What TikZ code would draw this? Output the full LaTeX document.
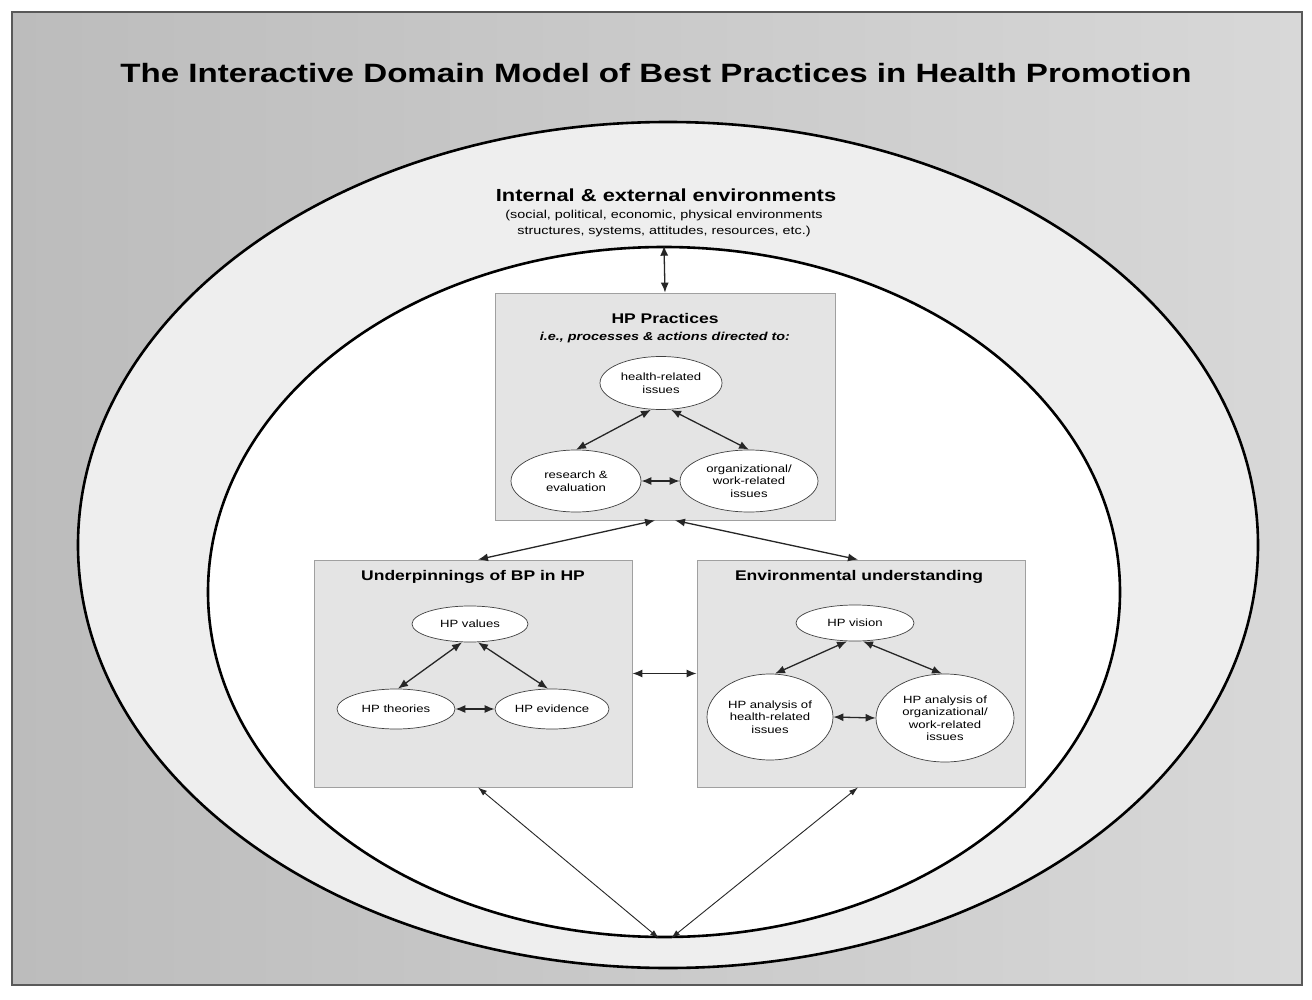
\documentclass[tikz,border=0pt]{standalone}
\usepackage{fontspec}
\setmainfont{Liberation Sans}[FakeStretch=1.25]
\usetikzlibrary{shapes.geometric,arrows.meta,calc}
\definecolor{bgleft}{RGB}{188,188,188}
\definecolor{bgright}{RGB}{216,216,216}
\definecolor{ringfill}{RGB}{238,238,238}
\definecolor{boxfill}{RGB}{228,228,228}
\definecolor{boxline}{RGB}{160,160,160}
\tikzset{
  panel/.style={draw=boxline, fill=boxfill, line width=0.8pt, inner sep=0pt},
  oval/.style={ellipse, draw=black!75, fill=white, line width=0.7pt, inner sep=0pt, align=center,
    font=\fontsize{10.5}{12.5}\selectfont},
  dbl/.style={{Latex[length=10pt,width=8pt]}-{Latex[length=10pt,width=8pt]}, line width=1.3pt, draw=black!85},
  thindbl/.style={{Latex[length=9pt,width=6pt]}-{Latex[length=9pt,width=6pt]}, line width=0.9pt, draw=black!85},
  paneltitle/.style={font=\bfseries\fontsize{14}{16}\selectfont, inner sep=0pt},
}
\begin{document}
\begin{tikzpicture}[x=1pt,y=-1pt]
\useasboundingbox (0,0) rectangle (1312,1000);
\fill[white] (0,0) rectangle (1312,1000);
% frame with gradient background
\shade[left color=bgleft, right color=bgright] (12,12) rectangle (1302,985);
\draw[black!65, line width=1.2pt] (12,12) rectangle (1302,985);
% title
\node[font=\bfseries\fontsize{26.5}{30}\selectfont, inner sep=0pt] (title) at (656,73)
  {The Interactive Domain Model of Best Practices in Health Promotion};
% ellipses
\node[ellipse, draw=black, line width=2.6pt, fill=ringfill, minimum width=1180pt, minimum height=846pt, inner sep=0pt] (outer) at (668,545) {};
\node[ellipse, draw=black, line width=2.6pt, fill=white, minimum width=912pt, minimum height=690pt, inner sep=0pt] (inner) at (664,592) {};
% environment label
\node[font=\bfseries\fontsize{17.5}{20}\selectfont, inner sep=0pt] (envtitle) at (666,195) {Internal \& external environments};
\node[font=\fontsize{11.5}{16}\selectfont, align=center, inner sep=0pt] (envsub) at (664,224)
  {(social, political, economic, physical environments\\structures, systems, attitudes, resources, etc.)};
% panels
\node[panel, minimum width=340pt, minimum height=227pt] (hpp) at (665,406.5) {};
\node[panel, minimum width=318pt, minimum height=227pt] (ub) at (473,673.5) {};
\node[panel, minimum width=328pt, minimum height=227pt] (env) at (861,673.5) {};
% panel titles
\node[paneltitle] (hpptitle) at (665,318) {HP Practices};
\node[font=\bfseries\itshape\fontsize{11.5}{13}\selectfont, inner sep=0pt] (hppsub) at (665,338) {i.e., processes \& actions directed to:};
\node[paneltitle] (ubtitle) at (473,577) {Underpinnings of BP in HP};
\node[paneltitle] (envutitle) at (859,577) {Environmental understanding};
% HP practices ovals
\node[oval, minimum width=122pt, minimum height=53pt] (hri) at (661,383) {health-related\\issues};
\node[oval, minimum width=130pt, minimum height=62pt] (re) at (576,481) {research \&\\evaluation};
\node[oval, minimum width=138pt, minimum height=62pt] (ow) at (749,481) {organizational/\\work-related\\issues};
% underpinnings ovals
\node[oval, minimum width=116pt, minimum height=36pt] (hv) at (470,624) {HP values};
\node[oval, minimum width=118pt, minimum height=40pt] (ht) at (396,709) {HP theories};
\node[oval, minimum width=114pt, minimum height=40pt] (he) at (552,709) {HP evidence};
% environmental understanding ovals
\node[oval, minimum width=118pt, minimum height=36pt] (vis) at (855,623) {HP vision};
\node[oval, minimum width=126pt, minimum height=86pt] (ah) at (770,717) {HP analysis of\\health-related\\issues};
\node[oval, minimum width=138pt, minimum height=88pt] (ao) at (945,718) {HP analysis of\\organizational/\\work-related\\issues};
% connectors
\draw[dbl] (inner.north) -- (hpp.north);
\draw[dbl] ([xshift=-10pt]hri.south) -- (re.north);
\draw[dbl] ([xshift=10pt]hri.south) -- (ow.north);
\draw[dbl] (re.east) -- (ow.west);
\draw[dbl] ([xshift=-10pt]hpp.south) -- ([xshift=5pt]ub.north);
\draw[dbl] ([xshift=10pt]hpp.south) -- ([xshift=-3pt]env.north);
\draw[dbl] ([xshift=-8pt]hv.south) -- ([xshift=2pt]ht.north);
\draw[dbl] ([xshift=8pt]hv.south) -- ([xshift=-4pt]he.north);
\draw[dbl] (ht.east) -- (he.west);
\draw[dbl] ([xshift=-8pt]vis.south) -- ([xshift=5pt]ah.north);
\draw[dbl] ([xshift=8pt]vis.south) -- ([xshift=-3pt]ao.north);
\draw[dbl] (ah.east) -- (ao.west);
\draw[dbl] (ub.east) -- (env.west);
\draw[thindbl] ([xshift=5pt]ub.south) -- ([xshift=-5pt]inner.south);
\draw[thindbl] ([xshift=-3pt]env.south) -- ([xshift=7pt]inner.south);
\end{tikzpicture}
\end{document}
